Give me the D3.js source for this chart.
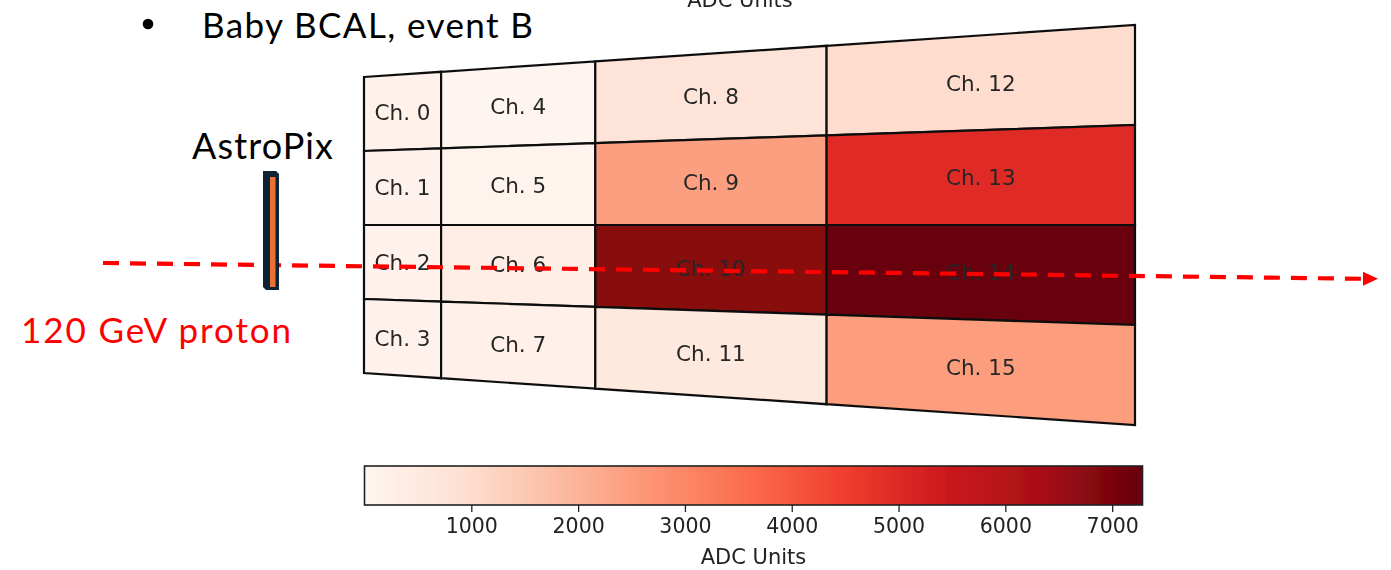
<!DOCTYPE html>
<html>
<head>
<meta charset="utf-8">
<script src="https://cdn.jsdelivr.net/npm/d3@7"></script>
<style>
  html, body { margin: 0; padding: 0; background: #fff; }
  svg { display: block; }
</style>
</head>
<body>
<svg id="chart" width="1391" height="570"></svg>
<script>
// Baby BCAL channel readout (ADC units), 4 rows x 4 towers
const channelLabels = d3.range(16).map(i => "Ch. " + i);
const adcValues = [
  150, 130, 170, 140,     // Ch. 0-3
  10, 90, 330, 200,       // Ch. 4-7
  750, 2450, 6800, 520,   // Ch. 8-11
  1000, 4950, 7284, 2500  // Ch. 12-15
];
const towerWidths = [1, 2, 3, 4];          // relative width of each tower column
const colorbarTicks = [1000, 2000, 3000, 4000, 5000, 6000, 7000];
const redsStops = ["#fff5f0", "#fee0d2", "#fcbba1", "#fc9272", "#fb6a4a",
                   "#ef3b2c", "#cb181d", "#a50f15", "#67000d"];

const svg = d3.select("#chart");
const defs = svg.append("defs");
defs.append("filter").attr("id", "soft")
  .append("feGaussianBlur").attr("stdDeviation", 0.55);

// colour map: piecewise-linear Reds
const extent = d3.extent(adcValues);
const color = d3.scaleSequential(d3.piecewise(d3.interpolateRgb, redsStops)).domain(extent);

// trapezoidal (projected) calorimeter face
const towerEdges = [0, ...d3.cumsum(towerWidths)];
const uMax = towerEdges[towerEdges.length - 1];
const xScale = d3.scaleLinear().domain([0, uMax]).range([364, 1135]);
const yNear = d3.scaleLinear().domain([0, 4]).range([77, 373]);
const yFar = d3.scaleLinear().domain([0, 4]).range([25, 425]);
const pt = (u, r) => {
  const t = u / uMax;
  return [xScale(u), yNear(r) * (1 - t) + yFar(r) * t];
};

const cells = adcValues.map((v, i) => {
  const col = Math.floor(i / 4), row = i % 4;
  const u0 = towerEdges[col], u1 = towerEdges[col + 1];
  return {
    label: channelLabels[i], value: v,
    poly: [pt(u0, row), pt(u1, row), pt(u1, row + 1), pt(u0, row + 1)],
    center: pt((u0 + u1) / 2, row + 0.5)
  };
});

const heat = svg.append("g").attr("filter", "url(#soft)");

// partially visible axis title from the panel above
heat.append("text")
  .attr("x", 740).attr("y", 7)
  .attr("text-anchor", "middle")
  .attr("font-family", "DejaVu Sans").attr("font-size", 21)
  .attr("fill", "#222")
  .text("ADC Units");

heat.selectAll("path.cell")
  .data(cells).join("path")
  .attr("class", "cell")
  .attr("d", d => "M" + d.poly.map(p => p.join(",")).join("L") + "Z")
  .attr("fill", d => color(d.value))
  .attr("stroke", "#111").attr("stroke-width", 2.2)
  .attr("stroke-linejoin", "miter");

heat.selectAll("text.lab")
  .data(cells).join("text")
  .attr("class", "lab")
  .attr("x", d => d.center[0]).attr("y", d => d.center[1])
  .attr("dy", "0.36em")
  .attr("text-anchor", "middle")
  .attr("font-family", "DejaVu Sans").attr("font-size", 21.5)
  .attr("fill", "#262626")
  .text(d => d.label);

// colour bar
const cb = { x0: 364.5, x1: 1142.5, y0: 466, y1: 505 };
const cbScale = d3.scaleLinear().domain([0, extent[1]]).range([cb.x0, cb.x1]);
const grad = defs.append("linearGradient").attr("id", "cbgrad")
  .attr("x1", "0%").attr("x2", "100%").attr("y1", "0%").attr("y2", "0%");
d3.range(0, 1.0001, 0.02).forEach(f => {
  grad.append("stop").attr("offset", (f * 100) + "%")
    .attr("stop-color", color(extent[0] + f * (extent[1] - extent[0])));
});
const cbg = svg.append("g").attr("filter", "url(#soft)");
cbg.append("rect")
  .attr("x", cb.x0).attr("y", cb.y0)
  .attr("width", cb.x1 - cb.x0).attr("height", cb.y1 - cb.y0)
  .attr("fill", "url(#cbgrad)")
  .attr("stroke", "#222").attr("stroke-width", 1.6);
const axis = d3.axisBottom(cbScale).tickValues(colorbarTicks)
  .tickFormat(d3.format("d")).tickSize(7).tickPadding(6);
const axG = cbg.append("g").attr("transform", `translate(0,${cb.y1})`).call(axis);
axG.select(".domain").remove();
axG.selectAll(".tick line").attr("stroke", "#222").attr("stroke-width", 1.3);
axG.selectAll(".tick text")
  .attr("font-family", "DejaVu Sans").attr("font-size", 20.5).attr("fill", "#222");
cbg.append("text")
  .attr("x", (cb.x0 + cb.x1) / 2).attr("y", 564)
  .attr("text-anchor", "middle")
  .attr("font-family", "DejaVu Sans").attr("font-size", 21)
  .attr("fill", "#222")
  .text("ADC Units");

// slide annotations
const ann = svg.append("g").attr("font-family", "Lato, 'Open Sans', sans-serif");
ann.append("circle").attr("cx", 148).attr("cy", 24).attr("r", 5.3).attr("fill", "#000");
ann.append("text").attr("x", 202).attr("y", 38)
  .attr("font-size", 35).attr("textLength", 331).attr("fill", "#000")
  .text("Baby BCAL, event B");
ann.append("text").attr("x", 192).attr("y", 159)
  .attr("font-size", 36).attr("textLength", 141).attr("fill", "#000")
  .text("AstroPix");
ann.append("text").attr("x", 21).attr("y", 343)
  .attr("font-size", 35).attr("textLength", 270).attr("fill", "#ff0000")
  .text("120 GeV proton");

// beam trajectory
const beam = { x0: 103, y0: 263, x1: 1363, y1: 278.8 };
svg.append("line")
  .attr("x1", beam.x0).attr("y1", beam.y0).attr("x2", beam.x1).attr("y2", beam.y1)
  .attr("stroke", "#ff0000").attr("stroke-width", 4.2)
  .attr("stroke-dasharray", "16,11");
svg.append("path")
  .attr("d", `M${beam.x1},${beam.y1 - 7}L${beam.x1 + 15},${beam.y1}L${beam.x1},${beam.y1 + 7}Z`)
  .attr("fill", "#ff0000");

// AstroPix sensor
svg.append("path")
  .attr("d", "M263,171L276,171L279,174L279,290L266,290L263,287Z")
  .attr("fill", "#0e2434");
svg.append("rect")
  .attr("x", 270).attr("y", 177).attr("width", 5.5).attr("height", 110)
  .attr("fill", "#ea7033");
</script>
</body>
</html>
